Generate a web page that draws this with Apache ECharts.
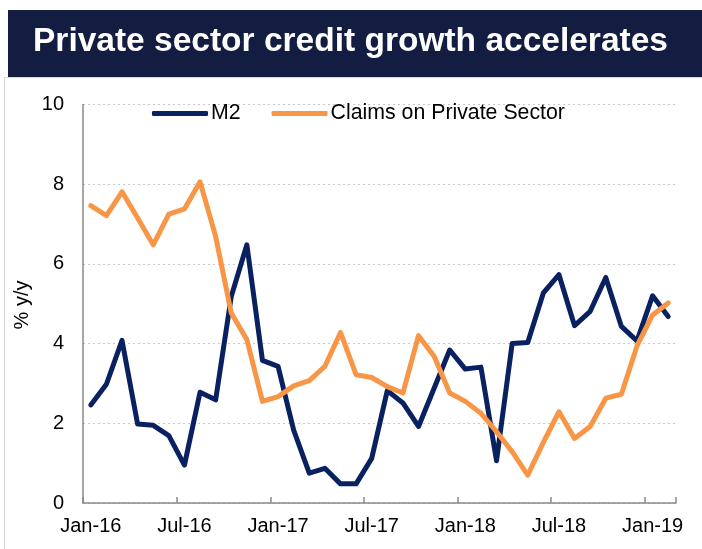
<!DOCTYPE html>
<html>
<head>
<meta charset="utf-8">
<script src="https://cdn.jsdelivr.net/npm/echarts@6/dist/echarts.min.js"></script>
<style>
html,body{margin:0;padding:0;background:#fff;}
#c{width:702px;height:549px;}
</style>
</head>
<body>
<div id="c"></div>
<script>
var categories = ['Jan-16','Feb-16','Mar-16','Apr-16','May-16','Jun-16','Jul-16','Aug-16','Sep-16','Oct-16','Nov-16','Dec-16',
  'Jan-17','Feb-17','Mar-17','Apr-17','May-17','Jun-17','Jul-17','Aug-17','Sep-17','Oct-17','Nov-17','Dec-17',
  'Jan-18','Feb-18','Mar-18','Apr-18','May-18','Jun-18','Jul-18','Aug-18','Sep-18','Oct-18','Nov-18','Dec-18',
  'Jan-19','Feb-19'];
var m2 = [2.46, 2.98, 4.08, 1.98, 1.95, 1.69, 0.95, 2.78, 2.59, 5.18,
  6.48, 3.58, 3.43, 1.83, 0.75, 0.87, 0.48, 0.48, 1.12, 2.82,
  2.51, 1.92, 2.88, 3.84, 3.36, 3.41, 1.06, 4.00, 4.03, 5.27,
  5.73, 4.45, 4.81, 5.66, 4.43, 4.07, 5.20, 4.68];
var claims = [7.46, 7.21, 7.81, 7.15, 6.48, 7.25, 7.38, 8.06, 6.69, 4.77,
  4.10, 2.55, 2.67, 2.94, 3.07, 3.43, 4.28, 3.22, 3.15, 2.92,
  2.76, 4.20, 3.68, 2.76, 2.55, 2.25, 1.79, 1.29, 0.70, 1.52,
  2.29, 1.62, 1.92, 2.63, 2.73, 3.94, 4.72, 5.02];
var seriesNames = ['M2', 'Claims on Private Sector'];
var titleText = 'Private sector credit growth accelerates';
var yAxisTitle = '% y/y';

var FONT = '"Liberation Sans", Arial, sans-serif';
var chart = echarts.init(document.getElementById('c'), null, {renderer: 'canvas'});
chart.setOption({
  animation: false,
  backgroundColor: '#fff',
  graphic: [
    {type: 'rect', shape: {x: 4.5, y: 77.5, width: 720, height: 500}, style: {fill: 'none', stroke: '#d9d9d9', lineWidth: 1}, z: 0},
    {type: 'rect', shape: {x: 8, y: 10, width: 700, height: 67}, style: {fill: '#131c41'}, z: 1},
    {type: 'text', left: 33, top: 25, style: {text: titleText, fill: '#fff', font: 'bold 33.5px ' + FONT}, z: 2},
    {type: 'text', x: 22, y: 305, rotation: Math.PI / 2, style: {text: yAxisTitle, fill: '#000', font: '20px ' + FONT, textAlign: 'center', textVerticalAlign: 'middle'}, z: 2}
  ],
  legend: {
    top: 98, left: 147,
    itemWidth: 56, itemHeight: 5, itemGap: 31,
    icon: 'roundRect',
    textStyle: {fontFamily: FONT, fontSize: 21.3, color: '#000', padding: [0, 0, 0, -2]},
    data: seriesNames
  },
  grid: {left: 83, right: 26, top: 104.5, bottom: 46, containLabel: false},
  xAxis: {
    type: 'category',
    data: categories,
    boundaryGap: true,
    axisLine: {lineStyle: {color: '#898989', width: 1.5}},
    axisTick: {show: true, inside: true, length: 6, interval: 5, alignWithLabel: false, lineStyle: {color: '#898989', width: 1.5}},
    axisLabel: {interval: 5, color: '#000', fontFamily: FONT, fontSize: 20, margin: 13},
    splitLine: {show: false}
  },
  yAxis: {
    type: 'value',
    min: 0, max: 10, interval: 2,
    axisLine: {show: true, lineStyle: {color: '#898989', width: 1.5}},
    axisTick: {show: false},
    axisLabel: {color: '#000', fontFamily: FONT, fontSize: 20, margin: 19},
    splitLine: {show: true, lineStyle: {color: '#c8c8c8', type: [2, 3], width: 1.2}}
  },
  series: [
    {name: seriesNames[0], type: 'line', data: m2, symbol: 'none', itemStyle: {color: '#0a2161'},
     lineStyle: {color: '#0a2161', width: 5, cap: 'round', join: 'round'}, z: 3},
    {name: seriesNames[1], type: 'line', data: claims, symbol: 'none', itemStyle: {color: '#f79646'},
     lineStyle: {color: '#f79646', width: 5, cap: 'round', join: 'round'}, z: 4}
  ]
});
</script>
</body>
</html>
